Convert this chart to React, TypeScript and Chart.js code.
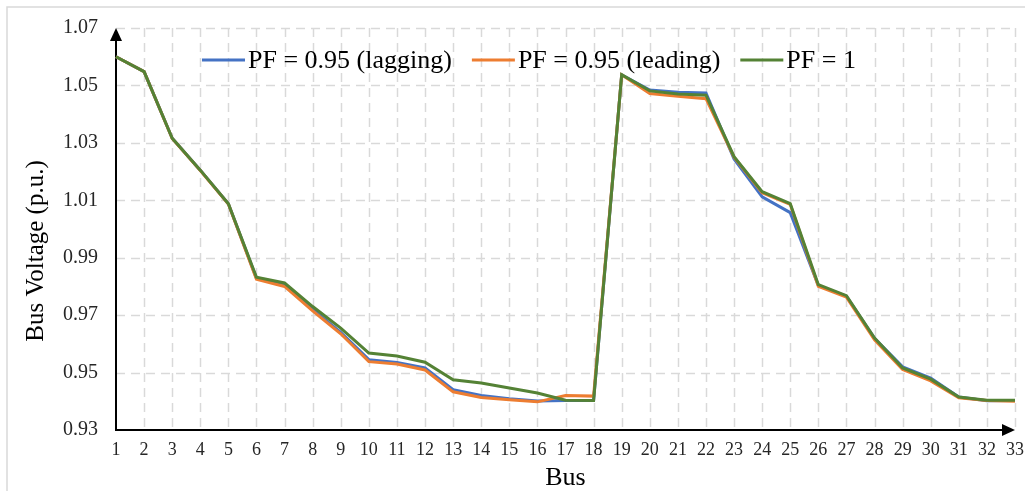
import React, { useEffect, useRef } from "react";
import { Chart, registerables } from "chart.js";

Chart.register(...registerables);

const buses: string[] = Array.from({ length: 33 }, (_, i) => String(i + 1));

const seriesLabels = ["PF = 0.95 (lagging)", "PF = 0.95 (leading)", "PF = 1"];

const lagging = [
  1.06, 1.0548, 1.0316, 1.0205, 1.0088, 0.9828, 0.9805, 0.972, 0.964, 0.9545,
  0.9535, 0.9516, 0.944, 0.942, 0.9409, 0.9401, 0.9403, 0.9403, 1.0537, 1.0484,
  1.0476, 1.0474, 1.0244, 1.0112, 1.0057, 0.9803, 0.9766, 0.9619, 0.952, 0.9481,
  0.9415, 0.9402, 0.9403,
];

const leading = [
  1.06, 1.0548, 1.0315, 1.0204, 1.0087, 0.9825, 0.98, 0.9715, 0.9635, 0.9538,
  0.953, 0.9509, 0.9433, 0.9413, 0.9405, 0.9398, 0.942, 0.9418, 1.0537, 1.0472,
  1.0462, 1.0454, 1.025, 1.0126, 1.0086, 0.98, 0.9763, 0.9614, 0.9511, 0.9471,
  0.9412, 0.9403, 0.94,
];

const unity = [
  1.06, 1.0548, 1.0316, 1.0205, 1.0088, 0.9832, 0.9812, 0.973, 0.9655, 0.9568,
  0.9558, 0.9536, 0.9475, 0.9464, 0.9446, 0.9429, 0.9404, 0.9403, 1.0537, 1.0481,
  1.047, 1.0466, 1.0252, 1.013, 1.0088, 0.9806, 0.9768, 0.962, 0.9516, 0.9477,
  0.9415, 0.9404, 0.9404,
];

const colors = ["#4472C4", "#ED7D31", "#548235"];
const yMin = 0.93;
const yMax = 1.07;
const yStep = 0.02;
const xTitle = "Bus";
const yTitle = "Bus Voltage (p.u.)";

const FONT = "'Times New Roman', 'Liberation Serif', serif";

const decorPlugin = {
  id: "decor",
  beforeDraw(chart: any) {
    const { ctx, width, height } = chart;
    ctx.save();
    ctx.fillStyle = "#ffffff";
    ctx.fillRect(0, 0, width, height);
    ctx.strokeStyle = "#d9d9d9";
    ctx.lineWidth = 1.5;
    ctx.beginPath();
    ctx.moveTo(7, height + 5);
    ctx.lineTo(7, 7);
    ctx.lineTo(width + 5, 7);
    ctx.stroke();
    ctx.restore();
  },
  beforeDatasetsDraw(chart: any) {
    const { ctx, chartArea } = chart;
    const { left, right, top, bottom } = chartArea;
    const xs = chart.scales.x;
    const ys = chart.scales.y;
    ctx.save();
    ctx.strokeStyle = "#d9d9d9";
    ctx.lineWidth = 1.5;
    ctx.setLineDash([9, 6]);
    buses.forEach((_, i) => {
      if (i === 0) return;
      const px = Math.round(xs.getPixelForValue(i)) + 0.5;
      ctx.beginPath();
      ctx.moveTo(px, top);
      ctx.lineTo(px, bottom);
      ctx.stroke();
    });
    ys.ticks.forEach((t: any) => {
      if (Math.abs(t.value - yMin) < 1e-9) return;
      const py = Math.round(ys.getPixelForValue(t.value)) + 0.5;
      ctx.beginPath();
      ctx.moveTo(left, py);
      ctx.lineTo(right, py);
      ctx.stroke();
    });
    ctx.setLineDash([]);
    ctx.strokeStyle = "#000000";
    ctx.fillStyle = "#000000";
    ctx.lineWidth = 2;
    ctx.beginPath();
    ctx.moveTo(left, bottom);
    ctx.lineTo(left, top + 10);
    ctx.moveTo(left - 1, bottom);
    ctx.lineTo(right - 10, bottom);
    ctx.stroke();
    ctx.beginPath();
    ctx.moveTo(left, top);
    ctx.lineTo(left - 6, top + 13);
    ctx.lineTo(left + 6, top + 13);
    ctx.closePath();
    ctx.fill();
    ctx.beginPath();
    ctx.moveTo(right, bottom);
    ctx.lineTo(right - 13, bottom - 6);
    ctx.lineTo(right - 13, bottom + 6);
    ctx.closePath();
    ctx.fill();
    ctx.restore();
  },
  afterDraw(chart: any) {
    const { ctx } = chart;
    ctx.save();
    ctx.fillStyle = "#000000";
    ctx.font = `25px ${FONT}`;
    ctx.textAlign = "center";
    ctx.textBaseline = "middle";
    ctx.translate(36, 251);
    ctx.rotate(-Math.PI / 2);
    ctx.fillText(yTitle, 0, 0);
    ctx.restore();

    ctx.save();
    ctx.font = `26px ${FONT}`;
    ctx.textBaseline = "middle";
    ctx.textAlign = "left";
    let x = 202;
    const y = 60;
    chart.data.datasets.forEach((ds: any) => {
      ctx.strokeStyle = ds.borderColor;
      ctx.lineWidth = 3;
      ctx.beginPath();
      ctx.moveTo(x, y);
      ctx.lineTo(x + 43, y);
      ctx.stroke();
      x += 46;
      ctx.fillStyle = "#000000";
      ctx.fillText(ds.label, x, y + 1);
      x += ctx.measureText(ds.label).width + 20;
    });
    ctx.restore();
  },
};

export default function App() {
  const canvasRef = useRef<HTMLCanvasElement | null>(null);

  useEffect(() => {
    document.body.style.margin = "0";
    const canvas = canvasRef.current;
    if (!canvas) return;
    const chart = new Chart(canvas, {
      type: "line",
      data: {
        labels: buses,
        datasets: [
          { label: seriesLabels[0], data: lagging, borderColor: colors[0], backgroundColor: colors[0], order: 3 },
          { label: seriesLabels[1], data: leading, borderColor: colors[1], backgroundColor: colors[1], order: 2 },
          { label: seriesLabels[2], data: unity, borderColor: colors[2], backgroundColor: colors[2], order: 1 },
        ].map((d) => ({ ...d, borderWidth: 3, pointRadius: 0, tension: 0, fill: false })),
      },
      options: {
        responsive: false,
        animation: false,
        devicePixelRatio: 1,
        layout: { padding: { top: 28, right: 10, left: 0, bottom: 0 } },
        plugins: {
          legend: { display: false },
          tooltip: { enabled: false },
          title: { display: false },
        },
        scales: {
          x: {
            type: "category",
            offset: false,
            grid: { display: false, drawTicks: false },
            border: { display: false },
            ticks: {
              autoSkip: false,
              maxRotation: 0,
              minRotation: 0,
              padding: 9,
              color: "#262626",
              font: { family: FONT, size: 18 },
            },
            title: {
              display: true,
              text: xTitle,
              color: "#000000",
              font: { family: FONT, size: 26, lineHeight: 1 },
              padding: { top: 0, bottom: 0 },
            },
            afterFit: (scale: any) => {
              scale.height = 61;
              scale.paddingLeft = 0;
              scale.paddingRight = 0;
            },
          },
          y: {
            type: "linear",
            min: yMin,
            max: yMax,
            grid: { display: false, drawTicks: false },
            border: { display: false },
            ticks: {
              stepSize: yStep,
              padding: 18,
              color: "#262626",
              font: { family: FONT, size: 20 },
              callback: (v: any) => Number(v).toFixed(2),
            },
            afterFit: (scale: any) => {
              scale.width = 116;
              scale.paddingTop = 0;
              scale.paddingBottom = 0;
            },
          },
        },
      },
      plugins: [decorPlugin],
    });
    return () => chart.destroy();
  }, []);

  return (
    <div style={{ position: "absolute", left: 0, top: 0, width: 1025, height: 491, overflow: "hidden" }}>
      <canvas ref={canvasRef} width={1025} height={491} />
    </div>
  );
}
